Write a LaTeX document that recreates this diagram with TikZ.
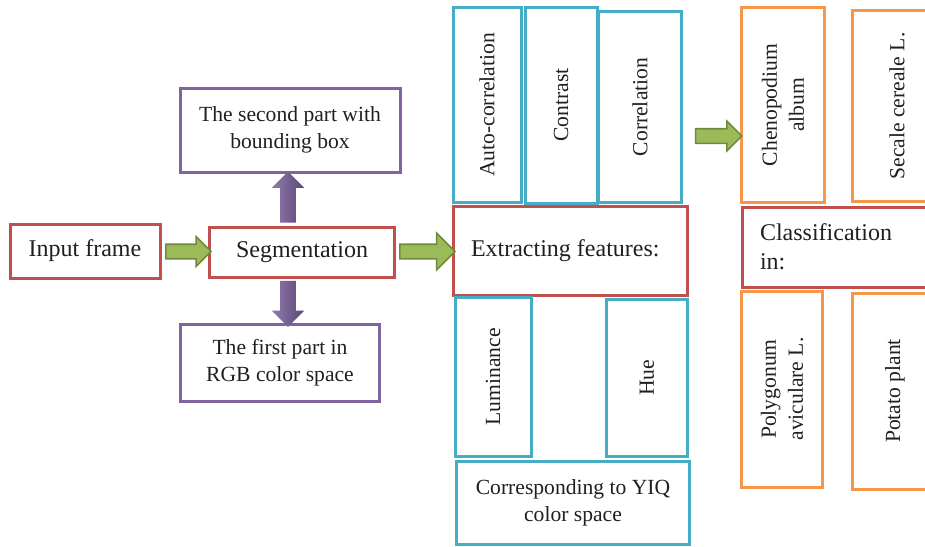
\documentclass[tikz,border=0pt]{standalone}
\usepackage{fontspec}
\setmainfont{Liberation Serif}
\usetikzlibrary{shapes.arrows, positioning, calc}
\definecolor{boxred}{HTML}{C0504D}
\definecolor{boxpurple}{HTML}{8064A2}
\definecolor{boxcyan}{HTML}{45ADC7}
\definecolor{boxorange}{HTML}{F79646}
\definecolor{arrgreen}{HTML}{9BBB59}
\definecolor{arrgreendark}{HTML}{71893F}
\definecolor{ink}{HTML}{231F20}
\newcommand{\bigtxt}{\fontsize{12}{14.5}\selectfont}
\newcommand{\smalltxt}{\fontsize{10.8}{13.5}\selectfont}

\begin{document}
\begin{tikzpicture}[x=0.5pt, y=-0.5pt, font=\smalltxt, text=ink]
            \tikzset{box/.style={draw, line width=1.5pt, fill=white, inner sep=0pt, align=center},
                     redbox/.style={box, draw=boxred},
                     purplebox/.style={box, draw=boxpurple},
                     cyanbox/.style={box, draw=boxcyan},
                     orangebox/.style={box, draw=boxorange},
                     garrow/.style={single arrow, fill=arrgreen, draw=arrgreendark, line width=0.8pt,
                                    inner sep=3.25pt, single arrow head extend=3.75pt},
                     parrow/.style={single arrow, left color=boxpurple!85!white, right color=boxpurple!70!black,
                                    draw=none, inner sep=3.75pt, single arrow head extend=4.25pt}}
            \useasboundingbox (0,0) rectangle (925,546);
            % left part
            \node[redbox, font=\bigtxt, minimum width=75pt, minimum height=27pt] (inp) at (85,251) {Input frame};
            \node[redbox, font=\bigtxt, minimum width=92.5pt, minimum height=25pt] (seg) at (302,252) {Segmentation};
            \node[purplebox, minimum width=110pt, minimum height=42pt] (second) at (290,130) {The second part with\\bounding box};
            \node[purplebox, minimum width=99.5pt, minimum height=38.5pt] (first) at (280,363) {The first part in\\RGB color space};
            % features
            \node[redbox, font=\bigtxt, align=flush left, text width=99pt, inner xsep=9pt, minimum height=44.5pt] (extract) at (570,251) {Extracting features:};
            \node[cyanbox, rotate=90, minimum width=97.5pt, minimum height=34pt] (autoc) at (487,105) {Auto-correlation};
            \node[cyanbox, rotate=90, minimum width=98pt, minimum height=36pt] (contrast) at (561,105) {Contrast};
            \node[cyanbox, rotate=90, minimum width=95.5pt, minimum height=41.5pt] (correl) at (640,107) {Correlation};
            \node[cyanbox, rotate=90, minimum width=79.5pt, minimum height=38pt] (lum) at (493,377) {Luminance};
            \node[cyanbox, rotate=90, minimum width=78.5pt, minimum height=40.5pt] (hue) at (647,378) {Hue};
            \node[cyanbox, minimum width=116.5pt, minimum height=41.5pt] (yiq) at (573,503) {Corresponding to YIQ\\color space};
            % classes
            \node[redbox, font=\bigtxt, align=flush left, text width=86pt, inner xsep=9pt, minimum height=40pt] (classif) at (846,247) {Classification\\in:};
            \node[orangebox, rotate=90, minimum width=97.5pt, minimum height=41.5pt] (cheno) at (783,105) {Chenopodium\\album};
            \node[orangebox, rotate=90, minimum width=95.5pt, minimum height=45pt] (secale) at (897,106) {Secale cereale L.};
            \node[orangebox, rotate=90, minimum width=98pt, minimum height=40.5pt] (poly) at (782,389) {Polygonum\\aviculare L.};
            \node[orangebox, rotate=90, minimum width=98pt, minimum height=43pt] (potato) at (895,391) {Potato plant};
            % arrows
            \node[garrow, minimum height=22.5pt] (g1) at ($(inp.east)!0.5!(seg.west)$) {};
            \node[garrow, minimum height=27.5pt, single arrow head extend=5.5pt] (g2) at ($(seg.east)!0.5!(extract.west)$) {};
            \node[garrow, minimum height=23pt] (g3) at (715,136) {};
            \node[parrow, shape border rotate=90, minimum height=25.5pt] (pup) at (288,201) {};
            \node[parrow, shape border rotate=270, minimum height=23pt] (pdown) at (288,300) {};
\end{tikzpicture}
\end{document}
